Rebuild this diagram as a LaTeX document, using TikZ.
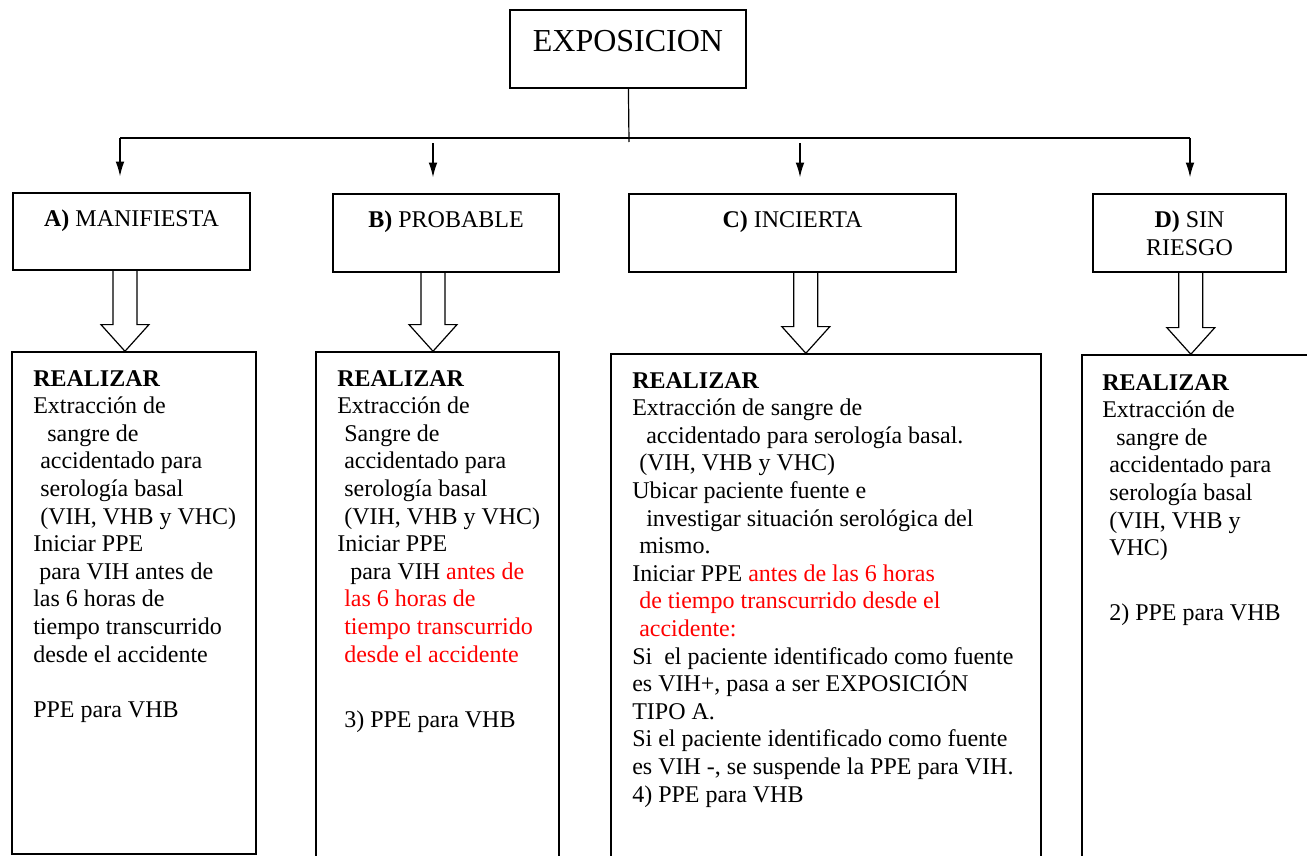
\documentclass[tikz,border=0pt]{standalone}
\usepackage{fontspec}
\setmainfont{Liberation Serif}
\usepackage{tikz}
\usetikzlibrary{arrows.meta, calc}
\newcommand\bodyfont{\fontsize{18}{20.7}\selectfont}
\newcommand\pad[1]{\hspace*{#1pt}}
\tikzstyle{boxnode} = [rectangle, draw=black, line width=1.1pt, inner sep=0pt]
\tikzstyle{category} = [boxnode, align=center, font=\bodyfont]
\tikzstyle{panel} = [boxnode]
\tikzstyle{txt} = [anchor=north west, align=left, inner sep=0pt, font=\bodyfont]
\tikzstyle{line} = [line width=0.9pt]
\tikzstyle{arrow} = [line width=0.9pt, -{Latex[length=11pt,width=6.5pt]}, shorten >=12pt]
\tikzstyle{bigarrow} = [line width=0.9pt]
\newcommand\hollow[3]{%
  \draw[bigarrow] let \p1=([xshift=#3]#1.south), \p2=(#2.north) in
    (\x1-9pt,\y1) -- (\x1-9pt,\y2+20pt) -- (\x1-18pt,\y2+20pt) -- (\x1,\y2)
    -- (\x1+18pt,\y2+20pt) -- (\x1+9pt,\y2+20pt) -- (\x1+9pt,\y1);}

\begin{document}
\begin{tikzpicture}[x=0.75pt, y=-0.75pt]
\useasboundingbox (0,0) rectangle (1307,856);
\clip (0,0) rectangle (1307,856);

\node (expo) [boxnode, minimum width=177pt, minimum height=58.5pt, text depth=12pt, font=\fontsize{24}{27.6}\selectfont] at (628,49) {EXPOSICION};

\node (catA) [category, minimum width=177.75pt, minimum height=57.75pt] at (131.5,231.5) {\textbf{A)} MANIFIESTA\\\mbox{}};
\node (catB) [category, minimum width=169.5pt, minimum height=58.5pt] at (446,233) {\textbf{B)} PROBABLE\\\mbox{}};
\node (catC) [category, minimum width=245.25pt, minimum height=58.5pt] at (792.5,233) {\textbf{C)} INCIERTA\\\mbox{}};
\node (catD) [category, minimum width=144.75pt, minimum height=58.5pt] at (1189.5,233) {\textbf{D)} SIN\\RIESGO};

\node (panA) [panel, minimum width=183pt, minimum height=376.5pt] at (134,603) {};
\node (panB) [panel, minimum width=182.25pt, minimum height=388.5pt] at (437.5,611) {};
\node (panC) [panel, minimum width=322.5pt, minimum height=387pt] at (826,612) {};
\node (panD) [panel, minimum width=178.5pt, minimum height=386.25pt] at (1201,612.5) {};

% tree from the top box
\coordinate (split) at (629,142);
\coordinate (busA) at (120,138);
\coordinate (busD) at (1190,138);
\coordinate (dropB) at (433,143);
\coordinate (dropC) at (800,143);
\draw[line] (expo) -- (split);
\draw[line] (busA) -- (busD);
\draw[arrow] (busA) -- (busA |- catA.north);
\draw[arrow] (dropB) -- (dropB |- catB.north);
\draw[arrow] (dropC) -- (dropC |- catC.north);
\draw[arrow] (busD) -- (busD |- catD.north);

% hollow arrows
\hollow{catA}{panA}{-4.9pt}
\hollow{catB}{panB}{-9.75pt}
\hollow{catC}{panC}{10pt}
\hollow{catD}{panD}{1pt}

\node (txtA) [txt] at (33,370) {\textbf{REALIZAR}\\
Extracción de\\
\pad{10.5}sangre de\\
\pad{5.25}accidentado para\\
\pad{5.25}serología basal\\
\pad{5.25}(VIH, VHB y VHC)\\
Iniciar PPE\\
\pad{4.5}para VIH antes de\\
las 6 horas de\\
tiempo transcurrido\\
desde el accidente\\[20.7pt]
PPE para VHB};

\node (txtB) [txt] at (337,370) {\textbf{REALIZAR}\\
Extracción de\\
\pad{5.25}Sangre de\\
\pad{5.25}accidentado para\\
\pad{5.25}serología basal\\
\pad{5.25}(VIH, VHB y VHC)\\
Iniciar PPE\\
\pad{9.75}para VIH \textcolor{red}{antes de}\\
\pad{5.25}\textcolor{red}{las 6 horas de}\\
\pad{5.25}\textcolor{red}{tiempo transcurrido}\\
\pad{5.25}\textcolor{red}{desde el accidente}\\[28pt]
\pad{5.25}3) PPE para VHB};

\node (txtC) [txt] at (632,372) {\textbf{REALIZAR}\\
Extracción de sangre de\\
\pad{10.5}accidentado para serología basal.\\
\pad{5.25}(VIH, VHB y VHC)\\
Ubicar paciente fuente e\\
\pad{10.5}investigar situación serológica del\\
\pad{5.25}mismo.\\
Iniciar PPE \textcolor{red}{antes de las 6 horas}\\
\pad{5.25}\textcolor{red}{de tiempo transcurrido desde el}\\
\pad{5.25}\textcolor{red}{accidente:}\\
Si\ \ el paciente identificado como fuente\\
es VIH+, pasa a ser EXPOSICIÓN\\
TIPO A.\\
Si el paciente identificado como fuente\\
es VIH -, se suspende la PPE para VIH.\\
4) PPE para VHB};

\node (txtD) [txt] at (1102,374) {\textbf{REALIZAR}\\
Extracción de\\
\pad{10.5}sangre de\\
\pad{5.25}accidentado para\\
\pad{5.25}serología basal\\
\pad{5.25}(VIH, VHB y\\
\pad{5.25}VHC)\\[28pt]
\pad{5.25}2) PPE para VHB};

\end{tikzpicture}
\end{document}
